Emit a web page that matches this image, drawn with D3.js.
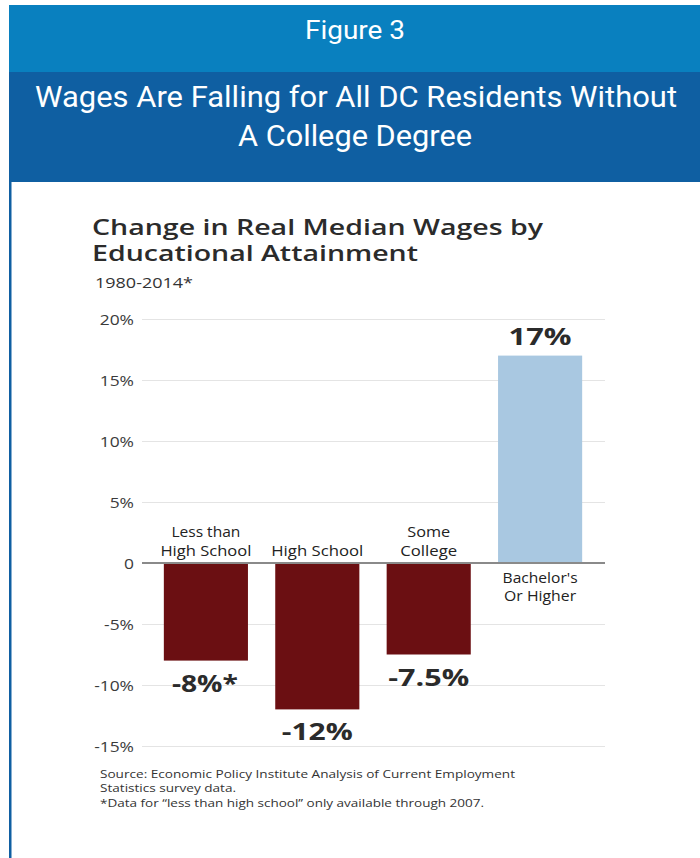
<!DOCTYPE html>
<html>
<head>
<meta charset="utf-8">
<script src="https://cdn.jsdelivr.net/npm/d3@7"></script>
<style>
  html, body { margin: 0; padding: 0; background: #fff; }
  svg { display: block; }
</style>
</head>
<body>
<script>
// Change in real median wages, 1980-2014, by educational attainment (percent)
const categories = ["Less than High School", "High School", "Some College", "Bachelor's Or Higher"];
const categoryLines = [["Less than", "High School"], ["High School"], ["Some", "College"], ["Bachelor's", "Or Higher"]];
const values = [-8, -12, -7.5, 17];
const valueLabels = ["-8%*", "-12%", "-7.5%", "17%"];
const yTicks = [20, 15, 10, 5, 0, -5, -10, -15];
const footnotes = [
  "Source: Economic Policy Institute Analysis of Current Employment",
  "Statistics survey data.",
  "*Data for \u201cless than high school\u201d only available through 2007."
];

const W = 700, H = 858;
const svg = d3.select("body").append("svg").attr("width", W).attr("height", H);

// squeeze or stretch a text node horizontally to a target width
function fit(sel, w) {
  const len = sel.node().getComputedTextLength();
  if (Math.abs(len - w) > 1) sel.attr("textLength", w).attr("lengthAdjust", "spacingAndGlyphs");
  return sel;
}
// widen a text node by a factor
function widen(sel, k) {
  const len = sel.node().getComputedTextLength();
  sel.attr("textLength", len * k).attr("lengthAdjust", "spacingAndGlyphs");
  return sel;
}

// header bands
svg.append("rect").attr("x", 9).attr("y", 5).attr("width", W - 9).attr("height", 67).attr("fill", "#0980bf");
svg.append("rect").attr("x", 9).attr("y", 72).attr("width", W - 9).attr("height", 110).attr("fill", "#0f5fa2");
svg.append("rect").attr("x", 9).attr("y", 182).attr("width", 2.5).attr("height", H - 182).attr("fill", "#0f5fa2");

const head = "Roboto, 'Liberation Sans', sans-serif";
fit(svg.append("text").attr("x", 355).attr("y", 39).attr("text-anchor", "middle")
  .attr("font-family", head).attr("font-size", 25).attr("fill", "#fff").text("Figure 3"), 100);
fit(svg.append("text").attr("x", 356).attr("y", 107).attr("text-anchor", "middle")
  .attr("font-family", head).attr("font-size", 29).attr("font-weight", 400).attr("fill", "#fff")
  .text("Wages Are Falling for All DC Residents Without"), 642);
fit(svg.append("text").attr("x", 355).attr("y", 146).attr("text-anchor", "middle")
  .attr("font-family", head).attr("font-size", 29).attr("font-weight", 400).attr("fill", "#fff")
  .text("A College Degree"), 234);

// chart title block
const body = "'Open Sans', 'Noto Sans', sans-serif";
fit(svg.append("text").attr("x", 92).attr("y", 235).attr("font-family", body).attr("font-size", 21)
  .attr("font-weight", 600).attr("fill", "#2b2b2b").text("Change in Real Median Wages by"), 451);
fit(svg.append("text").attr("x", 92).attr("y", 261).attr("font-family", body).attr("font-size", 21)
  .attr("font-weight", 600).attr("fill", "#2b2b2b").text("Educational Attainment"), 326);
fit(svg.append("text").attr("x", 95).attr("y", 288).attr("font-family", body).attr("font-size", 14)
  .attr("fill", "#333").text("1980-2014*"), 98);

// scales
const y = d3.scaleLinear().domain([-15, 20]).range([746, 319]);
const x = d3.scaleBand().domain(categories).range([152.7, 593.3]).paddingInner(0.245).paddingOuter(0.1);
const gridX0 = 142, gridX1 = 605;

// gridlines + tick labels via axis
const axis = d3.axisLeft(y).tickValues(yTicks)
  .tickFormat(d => d === 0 ? "0" : d + "%")
  .tickSize(-(gridX1 - gridX0)).tickPadding(8);
const g = svg.append("g").attr("transform", `translate(${gridX0},0)`).call(axis);
g.select(".domain").remove();
g.selectAll(".tick line").attr("stroke", "#e4e4e4").attr("stroke-width", 1.2);
g.selectAll(".tick text").attr("font-family", body).attr("font-size", 14.5).attr("fill", "#3a3a3a").attr("dy", "0.36em")
  .each(function() { widen(d3.select(this), 1.2); });

// bars
svg.append("g").selectAll("rect").data(categories).join("rect")
  .attr("x", d => x(d))
  .attr("width", x.bandwidth())
  .attr("y", (d, i) => y(Math.max(0, values[i])))
  .attr("height", (d, i) => Math.abs(y(values[i]) - y(0)))
  .attr("fill", (d, i) => values[i] < 0 ? "#6b0f12" : "#a9c8e1");

// zero baseline
svg.append("line").attr("x1", gridX0).attr("x2", gridX1).attr("y1", y(0)).attr("y2", y(0))
  .attr("stroke", "#8a8a8a").attr("stroke-width", 2);

// value labels
const valueWidths = [66, 71, 81, 63];
svg.append("g").selectAll("text").data(categories).join("text")
  .attr("x", (d, i) => x(d) + x.bandwidth() / 2 - (i === 0 ? 1 : 0))
  .attr("y", (d, i) => values[i] < 0 ? y(values[i]) + 31 : y(values[i]) - 11)
  .attr("text-anchor", "middle")
  .attr("font-family", body).attr("font-size", 24).attr("font-weight", 700).attr("fill", "#2b2b2b")
  .text((d, i) => valueLabels[i])
  .each(function(d, i) { fit(d3.select(this), valueWidths[i]); });

// category labels: above the baseline for losses, below for gains
const lineWidths = [[69, 91], [92], [43, 57], [75, 72]];
svg.append("g").selectAll("g").data(categories).join("g").each(function(d, i) {
  const lines = categoryLines[i];
  const cx = x(d) + x.bandwidth() / 2;
  const startY = values[i] < 0 ? y(0) - 7 - (lines.length - 1) * 19 : y(0) + 20;
  lines.forEach((l, k) => {
    const t = d3.select(this).append("text")
      .attr("x", cx).attr("y", startY + k * (values[i] < 0 ? 19 : 18))
      .attr("text-anchor", "middle")
      .attr("font-family", body).attr("font-size", 14).attr("fill", "#222")
      .text(l);
    fit(t, lineWidths[i][k]);
  });
});

// footnotes
const footWidths = [415, 136, 384];
svg.append("g").selectAll("text").data(footnotes).join("text")
  .attr("x", 100).attr("y", (d, i) => 778 + i * 14.4)
  .attr("font-family", body).attr("font-size", 11).attr("fill", "#333")
  .text(d => d)
  .each(function(d, i) { fit(d3.select(this), footWidths[i]); });
</script>
</body>
</html>
